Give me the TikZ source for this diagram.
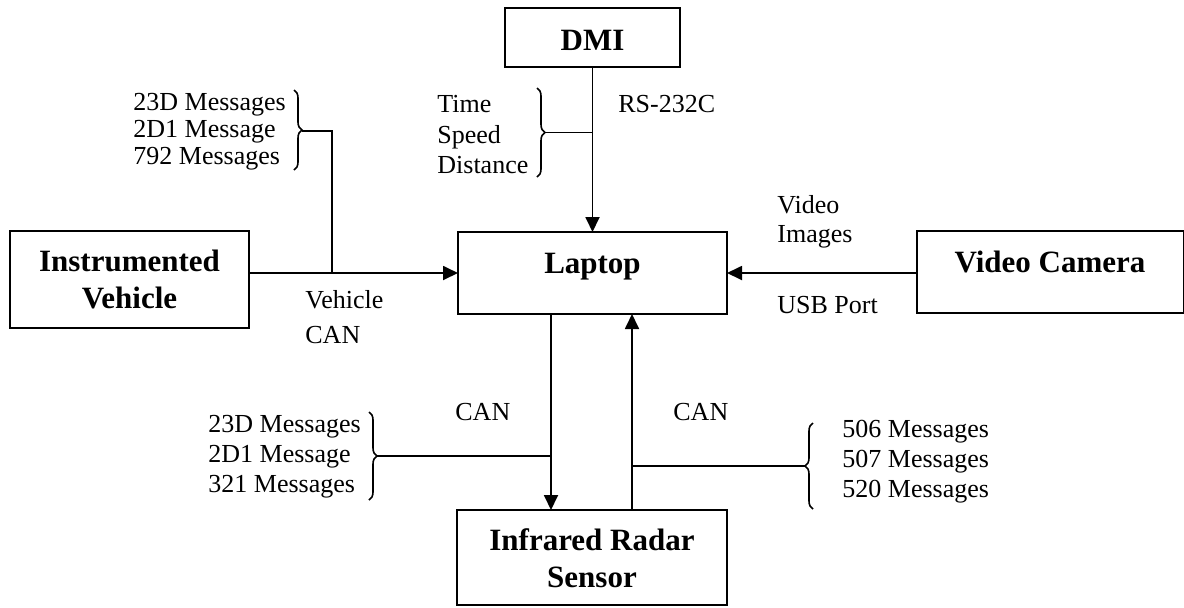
\documentclass[tikz,border=0pt]{standalone}
\usepackage{fontspec}
\setmainfont{Liberation Serif}
\usetikzlibrary{arrows.meta,decorations.pathreplacing}

\tikzset{
  box/.style={draw, line width=1pt, rectangle, inner sep=0pt, outer sep=0pt},
  boldtxt/.style={font=\fontsize{15.5}{18.5}\selectfont\bfseries, inner sep=0pt, anchor=base},
  txt/.style={font=\fontsize{13}{15}\selectfont, inner sep=0pt, anchor=base west},
  wire/.style={line width=0.9pt},
  arr/.style={line width=0.9pt, -{Triangle[length=7.5pt, width=7pt]}},
  cbrace/.style={line width=0.8pt, decorate, decoration={brace, amplitude=4pt}}
}

\begin{document}
\begin{tikzpicture}[x=0.5pt, y=-0.5pt]
  \useasboundingbox (0,0) rectangle (1184,607);
  \clip (0,0) rectangle (1184,607);

  % blocks
  \node[box, minimum width=87.5pt,  minimum height=29.5pt] (dmi)   at (592.5,37.5) {};
  \node[box, minimum width=134.5pt, minimum height=41pt]   (lap)   at (592.5,273)  {};
  \node[box, minimum width=119.5pt, minimum height=48.5pt] (inst)  at (129.5,279.5) {};
  \node[box, minimum width=133.5pt, minimum height=41pt]   (cam)   at (1050.5,272) {};
  \node[box, minimum width=135pt,   minimum height=47.5pt] (radar) at (592,557.5)  {};

  % block titles
  \node[boldtxt] (dmiT)   at (592.5,50)  {DMI};
  \node[boldtxt] (lapT)   at (592.5,273) {Laptop};
  \node[boldtxt] (instT1) at (129.5,271) {Instrumented};
  \node[boldtxt] (instT2) at (129.5,308) {Vehicle};
  \node[boldtxt] (camT)   at (1050,272)  {Video Camera};
  \node[boldtxt] (radT1)  at (592,550)   {Infrared Radar};
  \node[boldtxt] (radT2)  at (592,587)   {Sensor};

  % connector positions
  \coordinate (dn) at (551,0);
  \coordinate (up) at (632,0);
  \coordinate (j1) at (332,273);

  % main links
  \draw[arr] (dmi.south -| lap.north) -- (lap.north);
  \draw[arr] (inst.east |- lap.west) -- (lap.west);
  \draw[arr] (cam.west |- lap.east) -- (lap.east);
  \draw[arr] (lap.south -| dn) -- (radar.north -| dn);
  \draw[arr] (radar.north -| up) -- (lap.south -| up);

  % braces with their taps
  \draw[cbrace] (294,90) -- (294,170);
  \coordinate (b1) at (302,131);
  \draw[wire] (b1) -| (j1);

  \draw[cbrace] (537,88) -- (537,177);
  \coordinate (b2) at (545,132.5);
  \draw[wire] (b2) -- (b2 -| lap.north);

  \draw[cbrace] (369,412) -- (369,500);
  \coordinate (b3) at (377,456);
  \draw[wire] (b3) -- (b3 -| dn);

  \draw[cbrace] (813,509) -- (813,423);
  \coordinate (b4) at (805,466);
  \draw[wire] (b4) -- (b4 -| up);

  % message groups
  \node[txt] (v1) at (133,110) {23D Messages};
  \node[txt] (v2) at (133,137) {2D1 Message};
  \node[txt] (v3) at (133,164) {792 Messages};

  \node[txt] (d1) at (437,112) {Time};
  \node[txt] (d2) at (437,143) {Speed};
  \node[txt] (d3) at (437,173) {Distance};

  \node[txt] (r1) at (208,432) {23D Messages};
  \node[txt] (r2) at (208,462) {2D1 Message};
  \node[txt] (r3) at (208,492) {321 Messages};

  \node[txt] (s1) at (842,437) {506 Messages};
  \node[txt] (s2) at (842,467) {507 Messages};
  \node[txt] (s3) at (842,497) {520 Messages};

  % link labels
  \node[txt] (rs)   at (618,112) {RS-232C};
  \node[txt] (vid1) at (777,213) {Video};
  \node[txt] (vid2) at (777,242) {Images};
  \node[txt] (usb)  at (777,313) {USB Port};
  \node[txt] (vc1)  at (305,308) {Vehicle};
  \node[txt] (vc2)  at (305,343) {CAN};
  \node[txt] (canL) at (455,420) {CAN};
  \node[txt] (canR) at (673,420) {CAN};
\end{tikzpicture}
\end{document}
